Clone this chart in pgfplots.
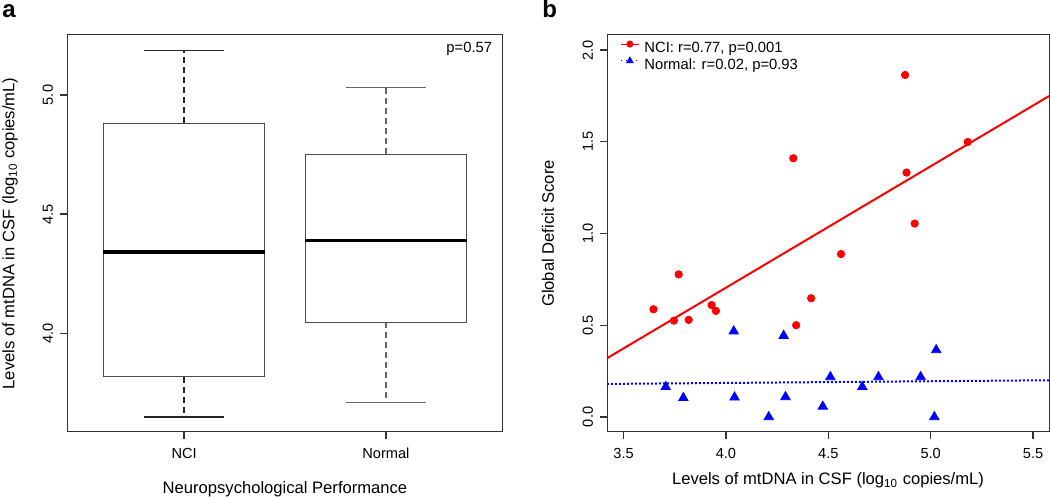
\documentclass[border=0pt]{standalone}
\usepackage{fontspec}
\setmainfont{Liberation Sans}
\usepackage{pgfplots}
\pgfplotsset{compat=1.18}

% R base-graphics look: open frame, outside ticks on left/bottom only
\pgfplotsset{
  rframe/.style={
    scale only axis,
    anchor=south west,
    axis line style={black!80, line width=0.5pt},
    tick align=outside,
    xtick pos=bottom, ytick pos=left,
    major tick length=3.5pt,
    major tick style={black!80, line width=0.6pt},
    tick label style={font=\fontsize{7.3}{8}\selectfont},
    xticklabel style={yshift=-1pt},
    label style={font=\fontsize{8.3}{9}\selectfont},
    /pgf/number format/assume math mode=true,
    /pgf/number format/fixed,
    /pgf/number format/fixed zerofill,
    /pgf/number format/precision=1,
    yticklabel style={rotate=90, anchor=south},
    clip=false,
  },
  whisk/.style={line width=0.6pt, dash pattern=on 3pt off 2pt},
}

\begin{document}
\begin{tikzpicture}
\path[use as bounding box] (0pt,0pt) rectangle (525pt,248.5pt);

% ---- panel a: boxplots (box 0.8 wide, caps 0.4 wide) ----
\begin{axis}[rframe,
    at={(33.5pt,32.5pt)}, width=218pt, height=198.5pt,
    xmin=0.42, xmax=2.58, ymin=3.585, ymax=5.252,
    xtick={1,2}, xticklabels={NCI,Normal},
    ytick={4,4.5,5},
    xlabel={Neuropsychological Performance},
    ylabel={Levels of mtDNA in CSF (log\textsubscript{10} copies/mL)},
    xlabel style={at={(axis description cs:0.5,-0.1544)}, anchor=base},
    ylabel style={at={(axis description cs:-0.1307,0.5)}, anchor=center},
]
% NCI: lower whisker 3.648, Q1 3.818, median 4.340, Q3 4.881, upper whisker 5.186
\addplot[black!85, whisk] coordinates {(1,4.881) (1,5.186)};
\addplot[black!85, whisk] coordinates {(1,3.818) (1,3.648)};
\addplot[black!85, line width=0.6pt] coordinates {(0.8,5.186) (1.2,5.186)};
\addplot[black!85, line width=0.6pt] coordinates {(0.8,3.648) (1.2,3.648)};
\addplot[black!70, line width=0.6pt] coordinates {(0.6,3.818) (1.4,3.818) (1.4,4.881) (0.6,4.881) (0.6,3.818)};
\addplot[black, line width=2.2pt] coordinates {(0.6,4.340) (1.4,4.340)};
% Normal: lower whisker 3.708, Q1 4.045, median 4.389, Q3 4.751, upper whisker 5.032
\addplot[black!60, whisk] coordinates {(2,4.751) (2,5.032)};
\addplot[black!60, whisk] coordinates {(2,4.045) (2,3.708)};
\addplot[black!60, line width=0.6pt] coordinates {(1.8,5.032) (2.2,5.032)};
\addplot[black!60, line width=0.6pt] coordinates {(1.8,3.708) (2.2,3.708)};
\addplot[black!70, line width=0.6pt] coordinates {(1.6,4.045) (2.4,4.045) (2.4,4.751) (1.6,4.751) (1.6,4.045)};
\addplot[black, line width=1.6pt] coordinates {(1.6,4.389) (2.4,4.389)};
\node[anchor=east, font=\fontsize{7.4}{8}\selectfont, inner sep=0pt]
  at (rel axis cs:0.976,0.965) {p=0.57};
\end{axis}

% ---- panel b: scatter with fitted lines ----
\begin{axis}[rframe,
    at={(303.5pt,32.5pt)}, width=221pt, height=198.5pt,
    xmin=3.419, xmax=5.578, ymin=-0.082, ymax=2.082,
    xtick={3.5,4.0,4.5,5.0,5.5},
    ytick={0,0.5,1.0,1.5,2.0},
    xlabel={Levels of mtDNA in CSF (log\textsubscript{10} copies/mL)},
    ylabel={Global Deficit Score},
    xlabel style={at={(axis description cs:0.5,-0.1335)}, anchor=base},
    ylabel style={at={(axis description cs:-0.1335,0.5)}, anchor=center},
    legend style={at={(rel axis cs:0,1)}, anchor=north west,
      xshift=6.5pt, yshift=-2.85pt, draw=none, fill=none, inner sep=0pt,
      font=\fontsize{7.4}{8}\selectfont, row sep=0.8pt, column sep=2.5pt,
      nodes={inner sep=0pt, text height=5.5pt, text depth=1.5pt}},
    legend cell align=left,
    legend image code/.code={
      \draw[mark repeat=2, mark phase=2, #1]
        plot coordinates {(0pt,2.3pt) (4.5pt,2.3pt) (9pt,2.3pt)};
    },
]
\addlegendimage{red, line width=0.5pt, mark=*, mark size=1.5pt}
\addlegendentry{NCI: r=0.77, p=0.001}
\addlegendimage{blue, line width=0.5pt, dotted, mark=triangle*, mark size=1.8pt, mark options={solid}}
\addlegendentry{Normal: r=0.02, p=0.93}

% NCI
\addplot[red, only marks, mark=*, mark size=1.85pt, forget plot] coordinates {
  (3.646,0.587) (3.746,0.525) (3.769,0.777) (3.818,0.529) (3.930,0.610)
  (3.951,0.578) (4.329,1.410) (4.343,0.500) (4.416,0.647) (4.562,0.888)
  (4.875,1.864) (4.882,1.332) (4.922,1.054) (5.181,1.499)
};
\addplot[red, line width=1pt, forget plot] coordinates {(3.419,0.320) (5.578,1.749)};

% Normal
\addplot[blue, only marks, mark=triangle*, mark size=2.7pt, forget plot] coordinates {
  (3.706,0.164) (3.792,0.104) (4.038,0.467) (4.042,0.107) (4.209,0.0)
  (4.282,0.443) (4.291,0.109) (4.473,0.057) (4.510,0.218) (4.666,0.164)
  (4.745,0.218) (4.951,0.218) (5.027,0.365) (5.018,0.0)
};
\addplot[blue, line width=1pt, dash pattern=on 1pt off 1pt, forget plot]
  coordinates {(3.419,0.180) (5.578,0.200)};
\end{axis}

\node[anchor=base west, inner sep=0pt, font=\bfseries\fontsize{12}{14}\selectfont] at (1pt,239.5pt) {a};
\node[anchor=base west, inner sep=0pt, font=\bfseries\fontsize{12}{14}\selectfont] at (271pt,239.5pt) {b};
\end{tikzpicture}
\end{document}
